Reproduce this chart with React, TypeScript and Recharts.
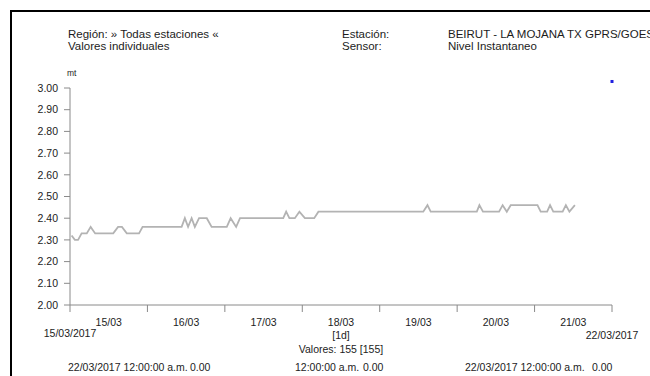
import React from 'react';
import { LineChart, Line, XAxis, YAxis, ReferenceDot } from 'recharts';

// hours since 15/03/2017 00:00
const hours = [
  0.5, 1.5, 2.5, 3.6, 5.2, 6.4, 7.8, 13.4, 14.9, 16.1, 17.6, 21.4, 22.5, 34.6, 35.6,
  36.6, 37.7, 38.7, 40.0, 42.4, 43.9, 48.6, 49.8, 51.5, 52.7, 66.1, 67.0, 68.0, 69.7,
  71.1, 72.8, 75.7, 77.0, 109.5, 110.8, 111.8, 126.1, 126.9, 128.0, 133.0, 134.1,
  135.4, 136.6, 144.9, 145.9, 147.9, 148.8, 149.8, 152.7, 153.7, 154.8, 156.5,
];
const levels = [
  2.32, 2.30, 2.30, 2.33, 2.33, 2.36, 2.33, 2.33, 2.36, 2.36, 2.33, 2.33, 2.36, 2.36, 2.40,
  2.36, 2.40, 2.36, 2.40, 2.40, 2.36, 2.36, 2.40, 2.36, 2.40, 2.40, 2.43, 2.40, 2.40,
  2.43, 2.40, 2.40, 2.43, 2.43, 2.46, 2.43, 2.43, 2.46, 2.43, 2.43, 2.46,
  2.43, 2.46, 2.46, 2.43, 2.43, 2.46, 2.43, 2.43, 2.46, 2.43, 2.46,
];
const dayLabels = ['15/03', '16/03', '17/03', '18/03', '19/03', '20/03', '21/03'];
const startLabel = '15/03/2017';
const endLabel = '22/03/2017';
const xTicks = [0, 12, 24, 36, 48, 60, 72, 84, 96, 108, 120, 132, 144, 156, 168];
const yTicks = [2.0, 2.1, 2.2, 2.3, 2.4, 2.5, 2.6, 2.7, 2.8, 2.9, 3.0];

const data = hours.map((h, i) => ({ h, v: levels[i] }));

const FONT = '"Liberation Sans", Arial, sans-serif';
const AXIS = '#8a8a8a';
const TEXT = '#1c1c1c';

function DayTick(props: any) {
  const { x, y, payload } = props;
  const h = payload.value as number;
  if (h % 24 === 0) {
    const idx = h / 24;
    return (
      <g>
        <line x1={x} y1={y} x2={x} y2={y + 7} stroke={AXIS} />
        {idx === 0 && (
          <text x={x} y={y + 32} textAnchor="middle" fontSize={10.5} fill={TEXT} fontFamily={FONT}>
            {startLabel}
          </text>
        )}
        {idx === 7 && (
          <text x={x} y={y + 34} textAnchor="middle" fontSize={10.5} fill={TEXT} fontFamily={FONT}>
            {endLabel}
          </text>
        )}
      </g>
    );
  }
  const i = (h - 12) / 24;
  return (
    <g>
      <text x={x} y={y + 21} textAnchor="middle" fontSize={10.5} fill={TEXT} fontFamily={FONT}>
        {dayLabels[i]}
      </text>
      {i === 3 && (
        <>
          <text x={x} y={y + 34} textAnchor="middle" fontSize={10.5} fill={TEXT} fontFamily={FONT}>
            [1d]
          </text>
          <text x={x} y={y + 48} textAnchor="middle" fontSize={10.5} fill={TEXT} fontFamily={FONT}>
            Valores: 155 [155]
          </text>
        </>
      )}
    </g>
  );
}

const txt = (left: number, top: number, s: string, size = 11.5) => (
  <div
    style={{
      position: 'absolute',
      left,
      top,
      fontSize: size,
      lineHeight: '12px',
      whiteSpace: 'nowrap',
      color: TEXT,
      fontFamily: FONT,
    }}
  >
    {s}
  </div>
);

export default function App() {
  return (
    <div style={{ position: 'absolute', left: 0, top: 0, width: 650, height: 376, background: '#fff', overflow: 'hidden' }}>
      <div
        style={{
          position: 'absolute',
          left: 10,
          top: 10,
          width: 700,
          height: 420,
          borderLeft: '2px solid #000',
          borderTop: '2px solid #000',
        }}
      />
      {txt(68, 28, 'Región: » Todas estaciones «')}
      {txt(68, 40, 'Valores individuales')}
      {txt(342, 28, 'Estación:')}
      {txt(342, 40, 'Sensor:')}
      {txt(448, 28, 'BEIRUT - LA MOJANA TX GPRS/GOES')}
      {txt(448, 40, 'Nivel Instantaneo')}
      {txt(67, 67, 'mt', 8.5)}
      <div style={{ position: 'absolute', left: 0, top: 0 }}>
        <LineChart width={650} height={376} data={data} margin={{ top: 88, right: 38, bottom: 0, left: 0 }}>
          <XAxis
            dataKey="h"
            type="number"
            domain={[0, 168]}
            ticks={xTicks}
            interval={0}
            height={71}
            axisLine={{ stroke: AXIS }}
            tickLine={false}
            tickSize={0}
            tickMargin={0}
            tick={<DayTick />}
          />
          <YAxis
            type="number"
            domain={[2, 3]}
            ticks={yTicks}
            interval={0}
            width={70}
            axisLine={{ stroke: AXIS }}
            tickLine={{ stroke: AXIS }}
            tickSize={6}
            tickMargin={6}
            tick={{ fontSize: 10.5, fill: TEXT, fontFamily: FONT }}
            tickFormatter={(v: number) => v.toFixed(2)}
          />
          <Line
            dataKey="v"
            type="linear"
            stroke="#b3b3b3"
            strokeWidth={1.8}
            dot={false}
            isAnimationActive={false}
          />
          <ReferenceDot
            x={168}
            y={3.03}
            ifOverflow="visible"
            shape={(p: any) => <rect x={p.cx - 1.5} y={p.cy - 1.5} width={3} height={3} fill="#1f1fe0" />}
          />
        </LineChart>
      </div>
      {txt(68, 361, '22/03/2017 12:00:00 a.m.', 10.5)}
      {txt(190, 361, '0.00', 10.5)}
      {txt(295, 361, '12:00:00 a.m.', 10.5)}
      {txt(363, 361, '0.00', 10.5)}
      {txt(465, 361, '22/03/2017 12:00:00 a.m.', 10.5)}
      {txt(592, 361, '0.00', 10.5)}
    </div>
  );
}
